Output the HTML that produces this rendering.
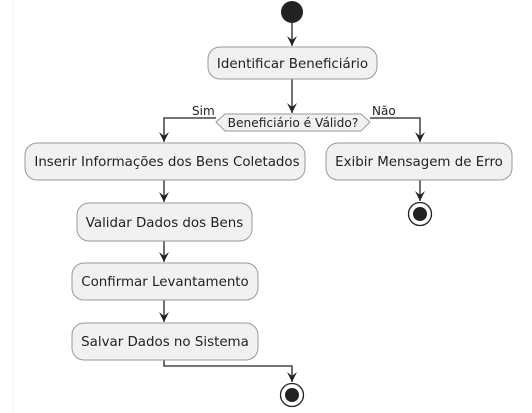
<!DOCTYPE html>
<html><head><meta charset="utf-8"><style>
html,body{margin:0;padding:0;background:#fff;width:532px;height:413px;overflow:hidden}
text{font-family:"DejaVu Sans","Liberation Sans",sans-serif;fill:#222}
</style></head><body>
<svg width="532" height="413" viewBox="0 0 532 413" xmlns="http://www.w3.org/2000/svg">
<line x1="13" y1="0" x2="13" y2="413" stroke="#f6f6f6" stroke-width="1"/>
<defs><marker id="a" viewBox="0 0 10 10" refX="10" refY="5" markerWidth="10" markerHeight="10" orient="auto" markerUnits="userSpaceOnUse"><path d="M0,0 L10,5 L0,10 L4,5 Z" fill="#222"/></marker></defs>
<g stroke="#222" stroke-width="1.3" fill="none">
<line x1="292" y1="23" x2="292" y2="46" marker-end="url(#a)"/>
<line x1="292" y1="79" x2="292" y2="113" marker-end="url(#a)"/>
<polyline points="216,118 164,118 164,142" marker-end="url(#a)"/>
<polyline points="370,118 420,118 420,142" marker-end="url(#a)"/>
<line x1="164" y1="180" x2="164" y2="202" marker-end="url(#a)"/>
<line x1="164" y1="241" x2="164" y2="262" marker-end="url(#a)"/>
<line x1="164" y1="300" x2="164" y2="322" marker-end="url(#a)"/>
<polyline points="164,360 164,366 292,366 292,382" marker-end="url(#a)"/>
<line x1="420" y1="180" x2="420" y2="201" marker-end="url(#a)"/>
</g>
<circle cx="292" cy="12" r="11" fill="#222"/>
<g fill="#f1f1f1" stroke="#999" stroke-width="1">
<rect x="208" y="47" width="169" height="32" rx="12"/>
<polygon points="216,122 225,114 361,114 370,122 361,131 225,131"/>
<rect x="25" y="143" width="280" height="37" rx="12"/>
<rect x="326" y="143" width="186" height="37" rx="12"/>
<rect x="77" y="203" width="175" height="38" rx="12"/>
<rect x="72" y="263" width="186" height="37" rx="12"/>
<rect x="72" y="323" width="186" height="37" rx="12"/>
</g>
<g font-size="13.4" text-anchor="middle">
<text x="292.5" y="68">Identificar Beneficiário</text>
<text x="293" y="127" font-size="12.2">Beneficiário é Válido?</text>
<text x="167" y="166">Inserir Informações dos Bens Coletados</text>
<text x="419" y="166">Exibir Mensagem de Erro</text>
<text x="164.5" y="227">Validar Dados dos Bens</text>
<text x="165" y="286">Confirmar Levantamento</text>
<text x="165" y="346">Salvar Dados no Sistema</text>
</g>
<text x="192" y="115" font-size="12">Sim</text>
<text x="372" y="115" font-size="12">Não</text>
<circle cx="420" cy="214" r="11.5" fill="#fff" stroke="#222" stroke-width="1.3"/>
<circle cx="420" cy="214" r="7" fill="#222"/>
<circle cx="292" cy="395" r="11.5" fill="#fff" stroke="#222" stroke-width="1.3"/>
<circle cx="292" cy="395" r="7" fill="#222"/>
</svg>
</body></html>
